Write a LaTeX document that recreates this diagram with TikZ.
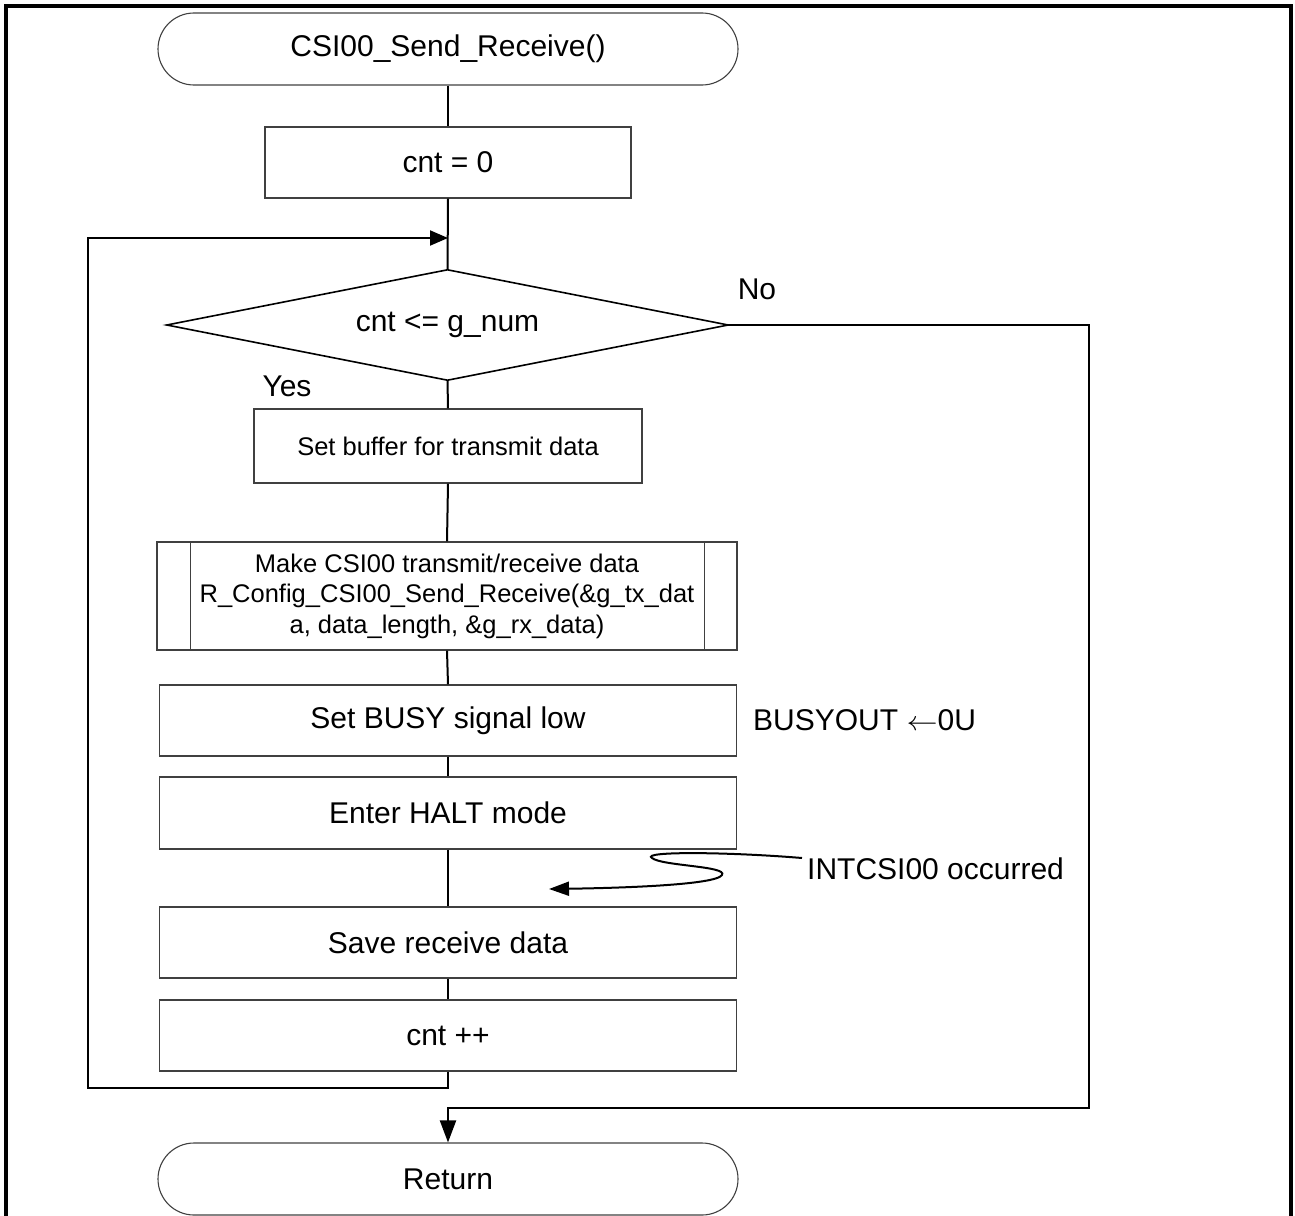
\documentclass[tikz,border=0pt]{standalone}
\usepackage{graphicx}
\usepackage{fontspec}
\setmainfont{Liberation Sans}
\usetikzlibrary{shapes.geometric,shapes.misc,arrows.meta}
\newcommand\fsmain{\fontsize{30}{36}\selectfont}
\newcommand\fssmall{\fontsize{25.5}{30.5}\selectfont}
\begin{document}
\begin{tikzpicture}[x=1pt,y=-1pt,
  boxline/.style={draw=black!75,line width=1.1pt},
  proc/.style={boxline,rectangle,inner sep=0pt,font=\fsmain,minimum width=577pt,minimum height=71pt},
  term/.style={boxline,rounded rectangle,inner sep=0pt,font=\fsmain,minimum width=580pt,minimum height=72pt},
  dec/.style={rectangle,inner sep=0pt,font=\fsmain,minimum width=561pt,minimum height=110pt},
  decline/.style={draw=black,line width=1.6pt,line join=miter},
  conn/.style={draw=black,line width=2pt},
  tip/.style={-{Triangle[length=18pt,width=15pt]}},
  lbl/.style={inner sep=0pt,font=\fsmain},
  frame/.style={draw=black,line width=3.5pt}
]
\useasboundingbox (0,0) rectangle (1295,1215);
\clip (0,0) rectangle (1295,1215);
\draw[frame] (6,1230) -- (6,6) -- (1291,6) -- (1291,1230);

\node[term] (start) at (448,49) {CSI00\_Send\_Receive()};
\node[proc,minimum width=366pt] (init) at (448,162.5) {cnt = 0};
\node[dec] (dec) at (447.5,325) {cnt <= g\_num};
\draw[decline] (dec.north) -- (dec.east) -- (dec.south) -- (dec.west) -- cycle;
\node[proc,font=\fssmall,minimum width=388pt,minimum height=74pt] (buf) at (448,446) {Set buffer for transmit data};
\node[proc,font=\fssmall,minimum width=580pt,minimum height=108pt,align=center] (pred) at (447,596)
  {Make CSI00 transmit/receive data\\R\_Config\_CSI00\_Send\_Receive(\&g\_tx\_dat\\a, data\_length, \&g\_rx\_data)};
\draw[boxline] ([xshift=34pt]pred.north west) -- ([xshift=34pt]pred.south west);
\draw[boxline] ([xshift=-33pt]pred.north east) -- ([xshift=-33pt]pred.south east);
\node[proc] (busy) at (448,720.5) {Set BUSY signal low};
\node[proc,minimum height=72pt] (halt) at (448,813) {Enter HALT mode};
\node[proc] (save) at (448,942.5) {Save receive data};
\node[proc] (inc) at (448,1035.5) {cnt ++};
\node[term] (ret) at (448,1179) {Return};

\node[lbl] (no) at (757,289) {No};
\node[lbl] (yes) at (287,386) {Yes};
\node[lbl,anchor=west] (busyout) at (753,720) {BUSYOUT \scalebox{1.25}[1.1]{$\leftarrow$}0U};
\node[lbl,anchor=west] (intlbl) at (807,869) {INTCSI00 occurred};

\coordinate (merge) at (448,238);
\coordinate (sq) at (802,858);
\coordinate (sqend) at (549,889);

\draw[conn] (start.south) -- (init.north);
\draw[conn] (init.south) -- (dec.north);
\draw[conn] (dec.south) -- (buf.north);
\draw[conn] (buf.south) -- (pred.north);
\draw[conn] (pred.south) -- (busy.north);
\draw[conn] (busy.south) -- (halt.north);
\draw[conn] (halt.south) -- (save.north);
\draw[conn] (save.south) -- (inc.north);
\draw[conn,tip] (inc.south) -- (448,1088) -- (88,1088) -- (88,238) -- (merge);
\draw[conn,-{Triangle[length=22pt,width=16pt]}] (dec.east) -- (1089,325) -- (1089,1108) -- (448,1108) -- (ret.north);
\draw[conn,-{Triangle[length=20pt,width=14pt]}] (sq) .. controls (730,852) and (640,851) .. (652,858)
  .. controls (662,866) and (728,866) .. (722,875) .. controls (716,885) and (620,888) .. (sqend);
\end{tikzpicture}
\end{document}
